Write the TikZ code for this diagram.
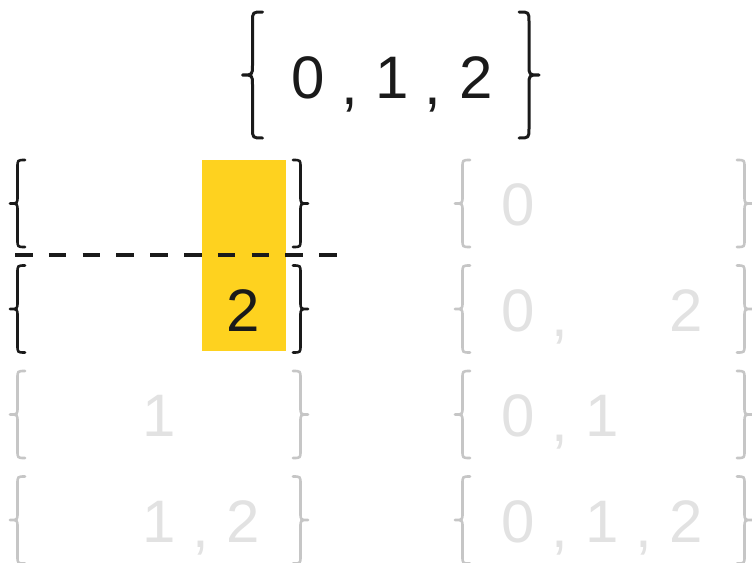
\documentclass[tikz,border=0pt]{standalone}
\usepackage{fontspec}
\setmainfont{Liberation Sans}
\definecolor{inkc}{HTML}{1A1A1A}
\definecolor{fadedigit}{HTML}{E2E2E2}
\definecolor{fadebrace}{HTML}{C6C6C6}
\definecolor{hlyellow}{HTML}{FED21F}
% cx, cy, half height, signed half width (tip at cx-hw), corner radius, style
\newcommand{\mybrace}[6]{%
  \draw[#6] ({#1+#4},{#2-#3}) .. controls ({#1},{#2-#3}) .. ({#1},{#2-#3+#5})
    -- ({#1},{#2-#5}) .. controls ({#1},{#2}) .. ({#1-#4},{#2})
    .. controls ({#1},{#2}) .. ({#1},{#2+#5})
    -- ({#1},{#2+#3-#5}) .. controls ({#1},{#2+#3}) .. ({#1+#4},{#2+#3});}
\begin{document}
\begin{tikzpicture}[x=1pt,y=-1pt,
  digit/.style={inner sep=0pt,anchor=base,font=\fontsize{60}{60}\selectfont},
  on/.style={text=inkc},
  off/.style={text=fadedigit},
  bron/.style={draw=inkc,line width=2.6pt,line cap=round,line join=round},
  broff/.style={draw=fadebrace,line width=2.6pt,line cap=round,line join=round},
  brtop/.style={draw=inkc,line width=3pt,line cap=round,line join=round},
  dashline/.style={draw=inkc,line width=3.2pt,dash pattern=on 17.5pt off 16.3pt}]
\useasboundingbox (0,0) rectangle (752,562);
% highlight
\fill[hlyellow] (202,160) rectangle (286,351);
% top set
\mybrace{252.5}{75}{63}{10}{10}{brtop}
\mybrace{529}{75}{63}{-10}{10}{brtop}
\node[digit,on] (t0) at (308,98) {0};
\node[digit,on] (tc1) at (350,104) {,};
\node[digit,on] (t1) at (392,98) {1};
\node[digit,on] (tc2) at (433,104) {,};
\node[digit,on] (t2) at (476,98) {2};
% braces of the grid
\mybrace{17.5}{203.5}{43.5}{7.5}{7.5}{bron}
\mybrace{300.5}{203.5}{43.5}{-7.5}{7.5}{bron}
\mybrace{17.5}{309}{43.5}{7.5}{7.5}{bron}
\mybrace{300.5}{309}{43.5}{-7.5}{7.5}{bron}
\mybrace{17.5}{414.5}{43.5}{7.5}{7.5}{broff}
\mybrace{300.5}{414.5}{43.5}{-7.5}{7.5}{broff}
\mybrace{17.5}{520}{43.5}{7.5}{7.5}{broff}
\mybrace{300.5}{520}{43.5}{-7.5}{7.5}{broff}
\foreach \cy in {203.5,309,414.5,520}{
  \mybrace{462.5}{\cy}{43.5}{7.5}{7.5}{broff}
  \mybrace{744.5}{\cy}{43.5}{-7.5}{7.5}{broff}
}
% left column
\node[digit,on] (l2b) at (243,331) {2};
\node[digit,off] (l3a) at (159,436.5) {1};
\node[digit,off] (l4a) at (159,542) {1};
\node[digit,off] (l4c) at (201,547) {,};
\node[digit,off] (l4b) at (243,542) {2};
% right column
\node[digit,off] (r1a) at (518,225.5) {0};
\node[digit,off] (r2a) at (518,331) {0};
\node[digit,off] (r2c) at (560,336) {,};
\node[digit,off] (r2b) at (686,331) {2};
\node[digit,off] (r3a) at (518,436.5) {0};
\node[digit,off] (r3c) at (560,441.5) {,};
\node[digit,off] (r3b) at (602,436.5) {1};
\node[digit,off] (r4a) at (518,542) {0};
\node[digit,off] (r4c) at (560,547) {,};
\node[digit,off] (r4b) at (602,542) {1};
\node[digit,off] (r4d) at (644,547) {,};
\node[digit,off] (r4e) at (686,542) {2};
% dashed divider
\coordinate (dl) at (15,255);
\coordinate (dr) at (337,255);
\draw[dashline] (dl) -- (dr);
\end{tikzpicture}
\end{document}
